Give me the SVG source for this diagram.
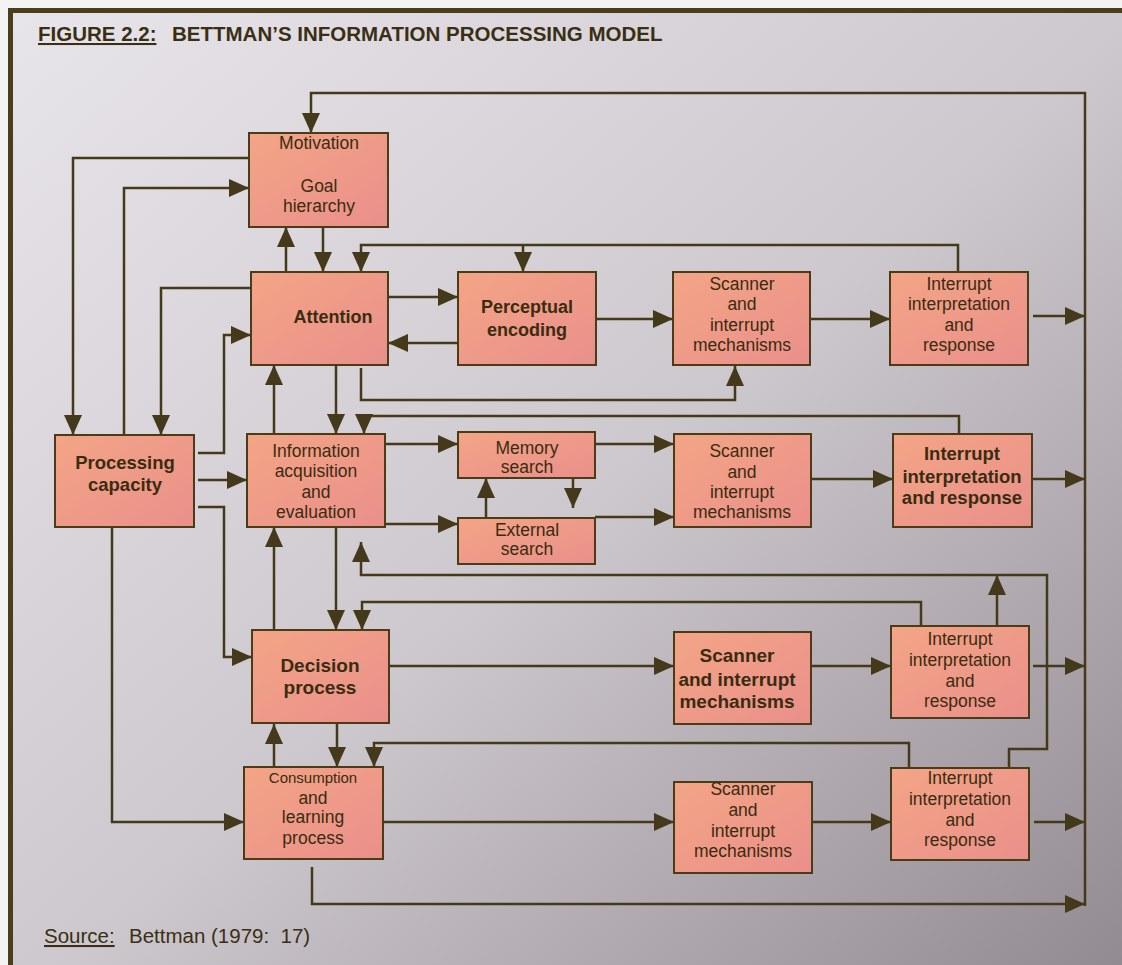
<svg xmlns="http://www.w3.org/2000/svg" width="1122" height="965" viewBox="0 0 1122 965">
<defs>
<linearGradient id="bg" x1="0" y1="0" x2="1" y2="1">
<stop offset="0" stop-color="#e8e5ea"/>
<stop offset="0.5" stop-color="#cdc8ce"/>
<stop offset="1" stop-color="#8e868d"/>
</linearGradient>
<linearGradient id="boxg" x1="0" y1="0" x2="1" y2="1">
<stop offset="0" stop-color="#f3a586"/>
<stop offset="1" stop-color="#ea8f8b"/>
</linearGradient>
<marker id="ah" viewBox="0 0 20 18" refX="20" refY="9" markerWidth="20" markerHeight="18" markerUnits="userSpaceOnUse" orient="auto">
<path d="M0,0 L20,9 L0,18 z" fill="#44391a"/>
</marker>
<style>
.box{fill:url(#boxg);stroke:#4a3c16;stroke-width:2}
.t{font-family:"Liberation Sans",Arial,sans-serif;font-size:17.5px;fill:#3a2c10;text-anchor:middle}
.b{font-weight:bold;font-size:18.5px}
.c{fill:none;stroke:#44391a;stroke-width:2.5}
.h{font-family:"Liberation Sans",Arial,sans-serif;fill:#3a2f14}
</style>
</defs>
<rect x="0" y="0" width="1122" height="965" fill="#f4f3f4"/>
<rect x="10.5" y="10.5" width="1140" height="1000" fill="url(#bg)" stroke="#4a3f1a" stroke-width="5"/>
<text class="h" x="38" y="41" font-size="20.5" font-weight="bold" text-decoration="underline">FIGURE 2.2:</text>
<text class="h" x="172" y="41" font-size="20.5" font-weight="bold">BETTMAN’S INFORMATION PROCESSING MODEL</text>
<text class="h" x="44" y="943" font-size="20.5" text-decoration="underline">Source:</text>
<text class="h" x="129" y="943" font-size="20.5" xml:space="preserve">Bettman (1979:  17)</text>

<g id="connectors">
<path class="c" d="M1085,906 V93 H311 V133" marker-end="url(#ah)"/>
<path class="c" d="M249,158 H73 V435" marker-end="url(#ah)"/>
<path class="c" d="M124,435 V188 H249" marker-end="url(#ah)"/>
<path class="c" d="M286,272 V227" marker-end="url(#ah)"/>
<path class="c" d="M323,227 V272" marker-end="url(#ah)"/>
<path class="c" d="M958,272 V245 H361 V272" marker-end="url(#ah)"/>
<path class="c" d="M523,245 V272" marker-end="url(#ah)"/>
<path class="c" d="M251,288 H161 V435" marker-end="url(#ah)"/>
<path class="c" d="M198,453 H224 V335 H251" marker-end="url(#ah)"/>
<path class="c" d="M388,297 H458" marker-end="url(#ah)"/>
<path class="c" d="M458,343 H388" marker-end="url(#ah)"/>
<path class="c" d="M596,319 H673" marker-end="url(#ah)"/>
<path class="c" d="M810,319 H890" marker-end="url(#ah)"/>
<path class="c" d="M1033,316 H1085" marker-end="url(#ah)"/>
<path class="c" d="M361,368 V400 H735 V366" marker-end="url(#ah)"/>
<path class="c" d="M274,434 V365" marker-end="url(#ah)"/>
<path class="c" d="M336,365 V434" marker-end="url(#ah)"/>
<path class="c" d="M959,434 V416 H364 V434" marker-end="url(#ah)"/>
<path class="c" d="M198,480 H247" marker-end="url(#ah)"/>
<path class="c" d="M198,507 H224 V657 H252" marker-end="url(#ah)"/>
<path class="c" d="M385,444 H458" marker-end="url(#ah)"/>
<path class="c" d="M385,524 H458" marker-end="url(#ah)"/>
<path class="c" d="M486,518 V478" marker-end="url(#ah)"/>
<path class="c" d="M573,478 V508" marker-end="url(#ah)"/>
<path class="c" d="M595,444 H674" marker-end="url(#ah)"/>
<path class="c" d="M595,517 H674" marker-end="url(#ah)"/>
<path class="c" d="M811,479 H893" marker-end="url(#ah)"/>
<path class="c" d="M1033,479 H1085" marker-end="url(#ah)"/>
<path class="c" d="M274,630 V527" marker-end="url(#ah)"/>
<path class="c" d="M336,527 V630" marker-end="url(#ah)"/>
<path class="c" d="M1009,768 V749 H1047 V575 H361 V542" marker-end="url(#ah)"/>
<path class="c" d="M997,626 V575" marker-end="url(#ah)"/>
<path class="c" d="M921,626 V602 H362 V630" marker-end="url(#ah)"/>
<path class="c" d="M389,666 H674" marker-end="url(#ah)"/>
<path class="c" d="M811,666 H891" marker-end="url(#ah)"/>
<path class="c" d="M1033,666 H1085" marker-end="url(#ah)"/>
<path class="c" d="M274,767 V724" marker-end="url(#ah)"/>
<path class="c" d="M337,723 V767" marker-end="url(#ah)"/>
<path class="c" d="M909,768 V743 H374 V767" marker-end="url(#ah)"/>
<path class="c" d="M112,527 V822 H244" marker-end="url(#ah)"/>
<path class="c" d="M383,822 H674" marker-end="url(#ah)"/>
<path class="c" d="M811,822 H891" marker-end="url(#ah)"/>
<path class="c" d="M1034,822 H1085" marker-end="url(#ah)"/>
<path class="c" d="M312,867 V904 H1085" marker-end="url(#ah)"/>
</g>

<g id="motivation">
<rect class="box" x="249" y="133" width="139" height="94"/>
<text class="t" x="319" y="149">Motivation</text>
<text class="t" x="319" y="192">Goal</text>
<text class="t" x="319" y="212">hierarchy</text>
</g>
<g id="attention">
<rect class="box" x="251" y="272" width="137" height="93"/>
<text class="t b" x="333" y="323" style="font-size:18px">Attention</text>
</g>
<g id="perceptual-encoding">
<rect class="box" x="458" y="272" width="138" height="93"/>
<text class="t b" x="527" y="313" style="font-size:18px">Perceptual</text>
<text class="t b" x="527" y="336" style="font-size:18px">encoding</text>
</g>
<g id="scanner1">
<rect class="box" x="673" y="272" width="137" height="93"/>
<text class="t" x="742" y="290">Scanner</text>
<text class="t" x="742" y="310">and</text>
<text class="t" x="742" y="331">interrupt</text>
<text class="t" x="742" y="351">mechanisms</text>
</g>
<g id="interrupt1">
<rect class="box" x="890" y="272" width="138" height="93"/>
<text class="t" x="959" y="290">Interrupt</text>
<text class="t" x="959" y="310">interpretation</text>
<text class="t" x="959" y="331">and</text>
<text class="t" x="959" y="351">response</text>
</g>
<g id="processing-capacity">
<rect class="box" x="55" y="435" width="139" height="92"/>
<text class="t b" x="125" y="469">Processing</text>
<text class="t b" x="125" y="491">capacity</text>
</g>
<g id="information-acquisition">
<rect class="box" x="247" y="434" width="138" height="93"/>
<text class="t" x="316" y="457">Information</text>
<text class="t" x="316" y="477">acquisition</text>
<text class="t" x="316" y="498">and</text>
<text class="t" x="316" y="518">evaluation</text>
</g>
<g id="memory-search">
<rect class="box" x="458" y="432" width="137" height="46"/>
<text class="t" x="527" y="454">Memory</text>
<text class="t" x="527" y="473">search</text>
</g>
<g id="external-search">
<rect class="box" x="458" y="518" width="137" height="46"/>
<text class="t" x="527" y="536">External</text>
<text class="t" x="527" y="555">search</text>
</g>
<g id="scanner2">
<rect class="box" x="674" y="434" width="137" height="93"/>
<text class="t" x="742" y="457">Scanner</text>
<text class="t" x="742" y="478">and</text>
<text class="t" x="742" y="498">interrupt</text>
<text class="t" x="742" y="518">mechanisms</text>
</g>
<g id="interrupt2">
<rect class="box" x="893" y="434" width="139" height="93"/>
<text class="t b" x="962" y="460">Interrupt</text>
<text class="t b" x="962" y="483">interpretation</text>
<text class="t b" x="962" y="504">and response</text>
</g>
<g id="decision-process">
<rect class="box" x="252" y="630" width="137" height="93"/>
<text class="t b" x="320" y="672" style="font-size:19px">Decision</text>
<text class="t b" x="320" y="694" style="font-size:19px">process</text>
</g>
<g id="scanner3">
<rect class="box" x="674" y="632" width="137" height="92"/>
<text class="t b" x="737" y="662" style="font-size:19px">Scanner</text>
<text class="t b" x="737" y="686" style="font-size:19px">and interrupt</text>
<text class="t b" x="737" y="708" style="font-size:19px">mechanisms</text>
</g>
<g id="interrupt3">
<rect class="box" x="891" y="626" width="138" height="92"/>
<text class="t" x="960" y="645">Interrupt</text>
<text class="t" x="960" y="666">interpretation</text>
<text class="t" x="960" y="687">and</text>
<text class="t" x="960" y="707">response</text>
</g>
<g id="consumption">
<rect class="box" x="244" y="767" width="139" height="92"/>
<text class="t" x="313" y="783" style="font-size:15px">Consumption</text>
<text class="t" x="313" y="804">and</text>
<text class="t" x="313" y="823">learning</text>
<text class="t" x="313" y="844">process</text>
</g>
<g id="scanner4">
<rect class="box" x="674" y="782" width="138" height="91"/>
<text class="t" x="743" y="795">Scanner</text>
<text class="t" x="743" y="816">and</text>
<text class="t" x="743" y="837">interrupt</text>
<text class="t" x="743" y="857">mechanisms</text>
</g>
<g id="interrupt4">
<rect class="box" x="891" y="768" width="138" height="92"/>
<text class="t" x="960" y="784">Interrupt</text>
<text class="t" x="960" y="805">interpretation</text>
<text class="t" x="960" y="826">and</text>
<text class="t" x="960" y="846">response</text>
</g>
</svg>
